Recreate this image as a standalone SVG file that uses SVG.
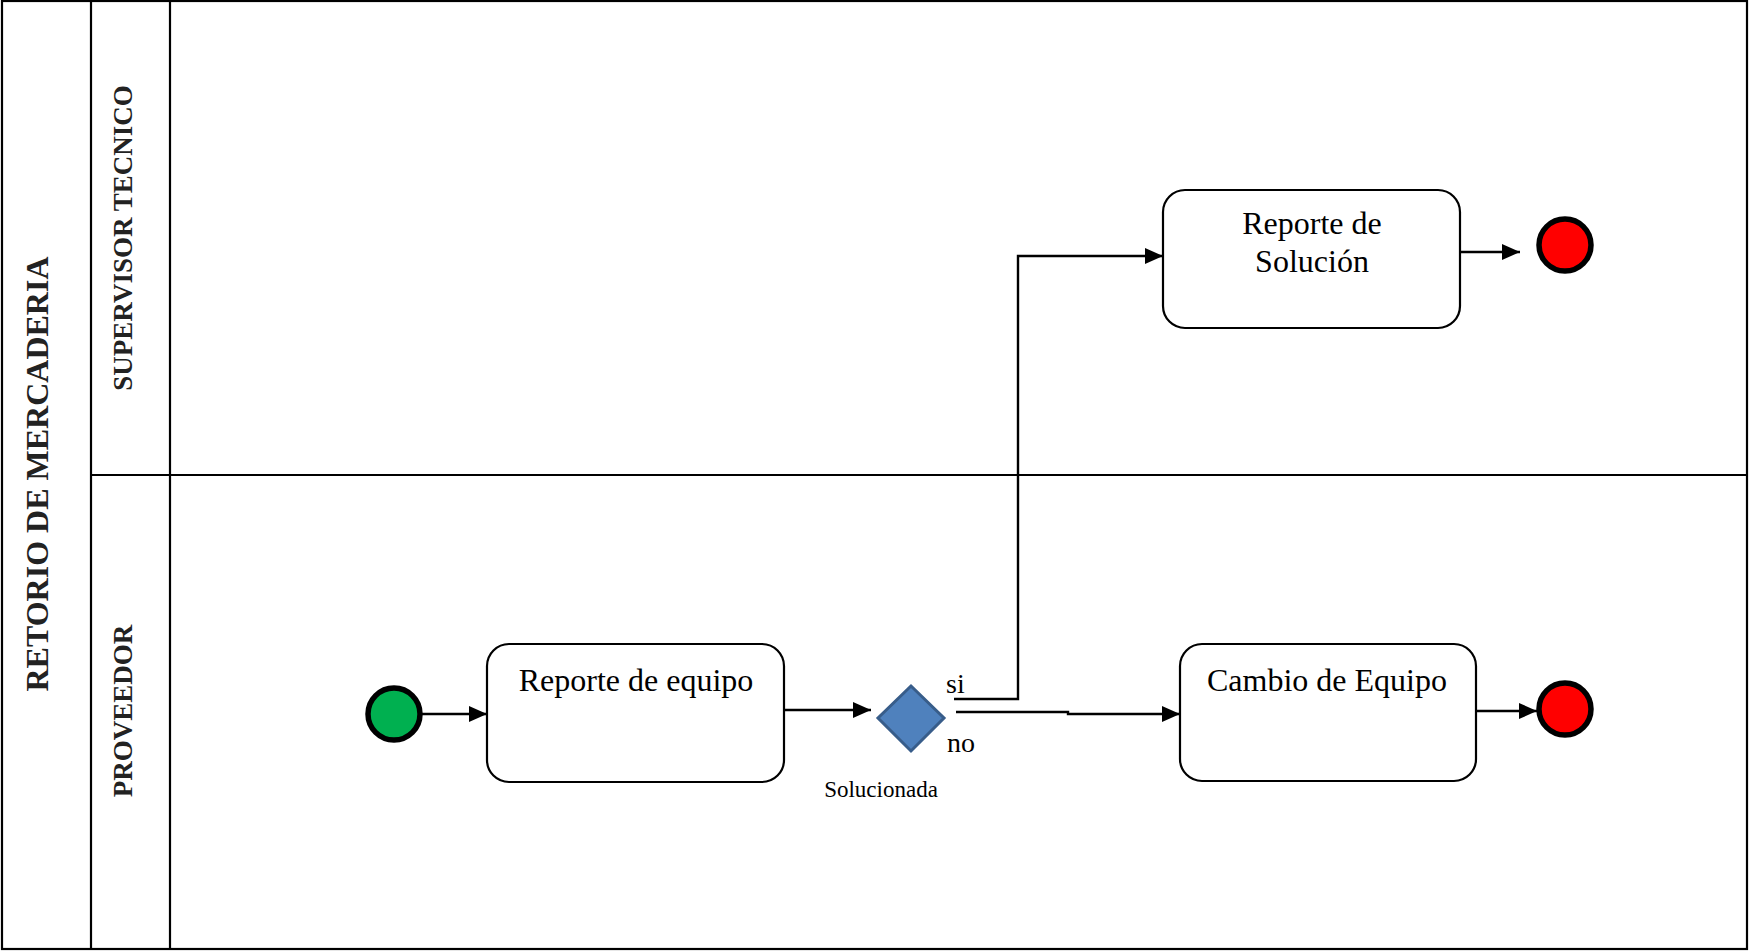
<svg xmlns="http://www.w3.org/2000/svg" width="1749" height="951" viewBox="0 0 1749 951">
  <style>
    .frame { fill: none; stroke: #000; stroke-width: 2.2; }
    .lane-title { font-family: "Liberation Serif", "Times New Roman", serif; font-weight: bold; fill: #222; }
    .task { fill: #fff; stroke: #000; stroke-width: 2.2; }
    .label { font-family: "Liberation Serif", "Times New Roman", serif; fill: #000; }
    .flow { fill: none; stroke: #000; stroke-width: 2.4; }
    .start { fill: #00B050; stroke: #000; stroke-width: 5.5; }
    .end { fill: #FF0000; stroke: #000; stroke-width: 5.5; }
    .gateway { fill: #4F81BD; stroke: #385D8A; stroke-width: 3; }
  </style>
  <defs>
    <marker id="arrow" markerUnits="userSpaceOnUse" markerWidth="18" markerHeight="16" refX="18" refY="8" orient="auto">
      <path d="M0,0 L18,8 L0,16 z" fill="#000"/>
    </marker>
  </defs>

  <rect width="1749" height="951" fill="#fff"/>

  <!-- pool and lanes -->
  <g id="pool">
    <rect class="frame" x="2" y="1" width="1745" height="948"/>
    <line class="frame" x1="91" y1="1" x2="91" y2="949"/>
    <line class="frame" x1="170" y1="1" x2="170" y2="949"/>
    <line class="frame" x1="91" y1="475" x2="1747" y2="475"/>
    <text class="lane-title" font-size="32" text-anchor="middle" transform="translate(48,474) rotate(-90)">RETORIO DE MERCADERIA</text>
    <text class="lane-title" font-size="27" text-anchor="middle" transform="translate(132,238) rotate(-90)">SUPERVISOR TECNICO</text>
    <text class="lane-title" font-size="27" text-anchor="middle" transform="translate(132,711) rotate(-90)">PROVEEDOR</text>
  </g>

  <!-- connectors -->
  <g id="connectors">
    <line class="flow" x1="422" y1="714" x2="487" y2="714" marker-end="url(#arrow)"/>
    <line class="flow" x1="784" y1="710" x2="871" y2="710" marker-end="url(#arrow)"/>
    <path class="flow" d="M954,699 H1018 V256 H1163" marker-end="url(#arrow)"/>
    <path class="flow" d="M956,712 H1068 V714 H1180" marker-end="url(#arrow)"/>
    <line class="flow" x1="1460" y1="252" x2="1520" y2="252" marker-end="url(#arrow)"/>
    <line class="flow" x1="1476" y1="711" x2="1537" y2="711" marker-end="url(#arrow)"/>
    <text class="label" font-size="28" x="946" y="693">si</text>
    <text class="label" font-size="28" x="947" y="752">no</text>
  </g>

  <g id="start">
    <circle class="start" cx="394" cy="714" r="26"/>
  </g>

  <g id="reporte-equipo">
    <rect class="task" x="487" y="644" width="297" height="138" rx="22"/>
    <text class="label" font-size="32" text-anchor="middle" x="636" y="691">Reporte de equipo</text>
  </g>

  <g id="gateway-solucionada">
    <path class="gateway" d="M911,686 L944,718 L911,751 L878,718 z"/>
    <text class="label" font-size="23" text-anchor="middle" x="881" y="797">Solucionada</text>
  </g>

  <g id="reporte-solucion">
    <rect class="task" x="1163" y="190" width="297" height="138" rx="22"/>
    <text class="label" font-size="32" text-anchor="middle" x="1312" y="234">Reporte de</text>
    <text class="label" font-size="32" text-anchor="middle" x="1312" y="272">Solución</text>
  </g>

  <g id="cambio-equipo">
    <rect class="task" x="1180" y="644" width="296" height="137" rx="22"/>
    <text class="label" font-size="32" text-anchor="middle" x="1327" y="691">Cambio de Equipo</text>
  </g>

  <g id="end-solucion">
    <circle class="end" cx="1565" cy="245" r="26"/>
  </g>

  <g id="end-cambio">
    <circle class="end" cx="1565" cy="709" r="26"/>
  </g>
</svg>
